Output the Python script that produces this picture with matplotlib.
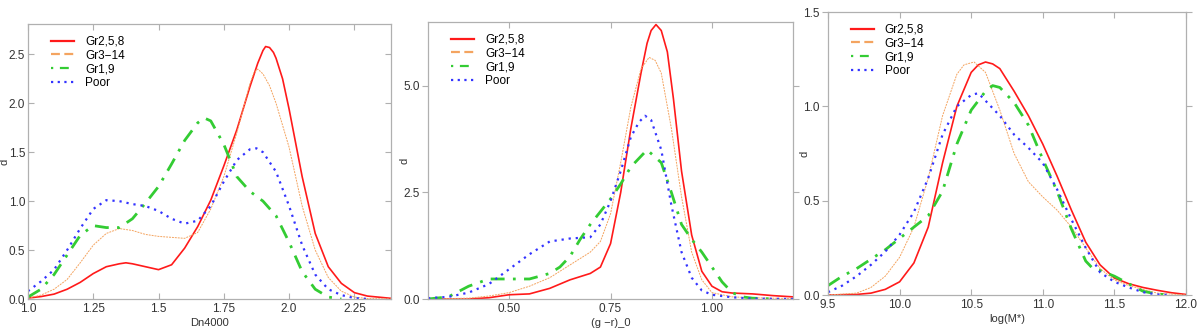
import numpy as np
import matplotlib.pyplot as plt
from matplotlib.lines import Line2D

# ---- panel 1 : Dn4000 ----
dn_red_x = [1.0, 1.05, 1.1, 1.15, 1.2, 1.25, 1.3, 1.35, 1.375, 1.4, 1.45, 1.5, 1.55, 1.6, 1.65, 1.7,
            1.75, 1.8, 1.85, 1.88, 1.9, 1.91, 1.925, 1.94, 1.95, 1.975, 2.0, 2.05, 2.1, 2.15, 2.2,
            2.25, 2.3, 2.39]
dn_red_y = [0.01, 0.025, 0.05, 0.1, 0.17, 0.26, 0.33, 0.36, 0.37, 0.36, 0.33, 0.30, 0.35, 0.52, 0.74, 1.01,
            1.36, 1.73, 2.17, 2.41, 2.54, 2.58, 2.57, 2.52, 2.46, 2.25, 1.94, 1.25, 0.67, 0.33, 0.16,
            0.065, 0.03, 0.007]

dn_org_x = [1.0, 1.05, 1.1, 1.15, 1.2, 1.25, 1.3, 1.35, 1.4, 1.45, 1.5, 1.55, 1.6, 1.65, 1.7, 1.75,
            1.8, 1.85, 1.865, 1.88, 1.9, 1.925, 1.95, 2.0, 2.05, 2.1, 2.15, 2.2, 2.25, 2.3, 2.39]
dn_org_y = [0.01, 0.04, 0.1, 0.2, 0.37, 0.55, 0.67, 0.72, 0.70, 0.66, 0.64, 0.63, 0.62, 0.68, 0.92, 1.25,
            1.7, 2.2, 2.31, 2.35, 2.3, 2.18, 2.0, 1.55, 0.95, 0.5, 0.22, 0.08, 0.02, 0.005, 0.0]

dn_grn_x = [1.0, 1.05, 1.1, 1.15, 1.2, 1.25, 1.3, 1.35, 1.4, 1.45, 1.5, 1.55, 1.6, 1.65, 1.675, 1.7,
            1.75, 1.8, 1.85, 1.9, 1.95, 2.0, 2.05, 2.1, 2.15, 2.2]
dn_grn_y = [0.02, 0.1, 0.25, 0.45, 0.65, 0.75, 0.73, 0.73, 0.82, 0.98, 1.15, 1.38, 1.62, 1.8, 1.85, 1.82,
            1.58, 1.25, 1.1, 1.0, 0.85, 0.58, 0.28, 0.1, 0.02, 0.0]

dn_blu_x = [1.0, 1.05, 1.1, 1.15, 1.2, 1.25, 1.3, 1.35, 1.4, 1.45, 1.5, 1.55, 1.6, 1.65, 1.7, 1.75,
            1.8, 1.85, 1.875, 1.9, 1.95, 2.0, 2.05, 2.1, 2.15, 2.2, 2.25, 2.3]
dn_blu_y = [0.08, 0.18, 0.3, 0.5, 0.72, 0.92, 1.01, 1.0, 0.97, 0.95, 0.9, 0.82, 0.77, 0.8, 0.95, 1.2,
            1.42, 1.53, 1.54, 1.5, 1.3, 0.95, 0.55, 0.25, 0.1, 0.04, 0.01, 0.0]

# ---- panel 2 : (g-r)_0 ----
gr_red_x = [0.3, 0.4, 0.45, 0.5, 0.55, 0.6, 0.65, 0.7, 0.725, 0.75, 0.775, 0.8, 0.825, 0.84, 0.85,
            0.862, 0.875, 0.89, 0.905, 0.925, 0.95, 0.975, 1.0, 1.025, 1.05, 1.1, 1.15, 1.2]
gr_red_y = [0.0, 0.0, 0.03, 0.1, 0.12, 0.25, 0.45, 0.6, 0.75, 1.3, 2.5, 4.0, 5.3, 6.0, 6.3,
            6.44, 6.3, 5.8, 4.7, 3.0, 1.5, 0.65, 0.3, 0.17, 0.14, 0.12, 0.08, 0.05]

gr_org_x = [0.3, 0.4, 0.45, 0.5, 0.55, 0.6, 0.65, 0.7, 0.725, 0.75, 0.775, 0.8, 0.825, 0.845,
            0.86, 0.875, 0.9, 0.925, 0.95, 0.975, 1.0, 1.05, 1.1, 1.2]
gr_org_y = [0.0, 0.02, 0.07, 0.15, 0.3, 0.5, 0.8, 1.1, 1.35, 2.0, 3.2, 4.5, 5.4, 5.67,
            5.6, 5.3, 4.0, 2.4, 1.1, 0.45, 0.15, 0.05, 0.03, 0.01]

gr_grn_x = [0.3, 0.35, 0.4, 0.45, 0.5, 0.55, 0.6, 0.625, 0.65, 0.675, 0.7, 0.725, 0.75, 0.775, 0.8,
            0.84, 0.875, 0.9, 0.925, 0.95, 0.975, 1.0, 1.025, 1.05, 1.075, 1.1, 1.15]
gr_grn_y = [0.0, 0.05, 0.3, 0.47, 0.47, 0.47, 0.6, 0.75, 1.0, 1.4, 1.75, 2.05, 2.35, 2.7, 3.1,
            3.5, 3.2, 2.5, 1.75, 1.4, 1.1, 0.75, 0.4, 0.15, 0.05, 0.02, 0.0]

gr_blu_x = [0.3, 0.35, 0.4, 0.45, 0.5, 0.55, 0.6, 0.65, 0.7, 0.725, 0.75, 0.775, 0.8, 0.82, 0.835,
            0.85, 0.875, 0.9, 0.925, 0.95, 0.975, 1.0, 1.05, 1.1, 1.2]
gr_blu_y = [0.02, 0.05, 0.15, 0.35, 0.7, 1.05, 1.35, 1.42, 1.45, 1.75, 2.3, 3.0, 3.8, 4.15, 4.3,
            4.2, 3.5, 2.2, 1.1, 0.5, 0.2, 0.1, 0.04, 0.01, 0.0]

# ---- panel 3 : log(M*) ----
m_red_x = [9.5, 9.7, 9.8, 9.9, 10.0, 10.1, 10.2, 10.3, 10.4, 10.5, 10.55, 10.6, 10.65, 10.7, 10.8,
           10.9, 11.0, 11.1, 11.2, 11.3, 11.4, 11.5, 11.6, 11.7, 11.8, 11.9, 12.0]
m_red_y = [0.0, 0.003, 0.01, 0.03, 0.07, 0.17, 0.36, 0.7, 1.0, 1.18, 1.22, 1.235, 1.225, 1.2, 1.08,
           0.95, 0.8, 0.63, 0.45, 0.28, 0.16, 0.09, 0.06, 0.04, 0.025, 0.012, 0.003]

m_org_x = [9.5, 9.7, 9.8, 9.9, 10.0, 10.1, 10.2, 10.3, 10.4, 10.45, 10.52, 10.6, 10.7, 10.8, 10.9,
           11.0, 11.1, 11.2, 11.3, 11.4, 11.5, 11.6, 11.7, 11.8, 12.0]
m_org_y = [0.0, 0.01, 0.04, 0.1, 0.2, 0.36, 0.62, 0.95, 1.17, 1.22, 1.235, 1.18, 0.98, 0.75, 0.6,
           0.52, 0.45, 0.36, 0.25, 0.14, 0.08, 0.05, 0.03, 0.01, 0.0]

m_grn_x = [9.5, 9.6, 9.7, 9.8, 9.9, 10.0, 10.1, 10.2, 10.3, 10.4, 10.5, 10.6, 10.65, 10.7, 10.8,
           10.9, 11.0, 11.1, 11.2, 11.3, 11.35, 11.4, 11.5, 11.6, 11.7, 11.8, 11.9]
m_grn_y = [0.05, 0.1, 0.14, 0.19, 0.24, 0.3, 0.36, 0.42, 0.55, 0.8, 0.98, 1.08, 1.11, 1.1, 1.02,
           0.9, 0.72, 0.55, 0.35, 0.18, 0.14, 0.13, 0.1, 0.06, 0.02, 0.005, 0.0]

m_blu_x = [9.5, 9.6, 9.7, 9.8, 9.9, 10.0, 10.1, 10.2, 10.3, 10.4, 10.5, 10.55, 10.6, 10.7, 10.8,
           10.9, 11.0, 11.1, 11.2, 11.3, 11.4, 11.5, 11.6, 11.7, 11.8, 11.9]
m_blu_y = [0.015, 0.05, 0.1, 0.16, 0.23, 0.32, 0.44, 0.62, 0.85, 1.0, 1.06, 1.07, 1.03, 0.95, 0.85,
           0.78, 0.7, 0.56, 0.4, 0.25, 0.12, 0.07, 0.04, 0.015, 0.003, 0.0]

labels = ['Gr2,5,8', 'Gr3\u221214', 'Gr1,9', 'Poor']
colors = ['#ff1a1a', '#f4a460', '#33cc33', '#3333ff']

plt.rcParams['font.family'] = ['Liberation Sans', 'DejaVu Sans']
plt.rcParams['font.size'] = 8

fig = plt.figure(figsize=(12, 3.3), dpi=100)

panels = [
    dict(pos=[0.0233, 0.0939, 0.3025, 0.8333], xlim=(1.0, 2.39), ylim=(0, 2.81),
         xticks=[1.0, 1.25, 1.5, 1.75, 2.0, 2.25], xtl=['1.0', '1.25', '1.5', '1.75', '2.0', '2.25'],
         yticks=[0, 0.5, 1.0, 1.5, 2.0, 2.5], ytl=['0.0', '0.5', '1.0', '1.5', '2.0', '2.5'],
         xlabel='Dn4000', ydir='in', ylab_x=10,
         data=[(dn_red_x, dn_red_y), (dn_org_x, dn_org_y), (dn_grn_x, dn_grn_y), (dn_blu_x, dn_blu_y)]),
    dict(pos=[0.3567, 0.0939, 0.3042, 0.8394], xlim=(0.3, 1.2), ylim=(0, 6.5),
         xticks=[0.5, 0.75, 1.0], xtl=['0.50', '0.75', '1.00'],
         yticks=[0, 2.5, 5.0], ytl=['0.0', '2.5', '5.0'],
         xlabel='(g \u2212r)_0', ydir='out', ylab_x=410,
         data=[(gr_red_x, gr_red_y), (gr_org_x, gr_org_y), (gr_grn_x, gr_grn_y), (gr_blu_x, gr_blu_y)]),
    dict(pos=[0.69, 0.106, 0.2983, 0.8576], xlim=(9.5, 12.0), ylim=(0, 1.5),
         xticks=[9.5, 10.0, 10.5, 11.0, 11.5, 12.0], xtl=['9.5', '10.0', '10.5', '11.0', '11.5', '12.0'],
         yticks=[0, 0.5, 1.0, 1.5], ytl=['0.0', '0.5', '1.0', '1.5'],
         xlabel='log(M*)', ydir='out', ylab_x=810,
         data=[(m_red_x, m_red_y), (m_org_x, m_org_y), (m_grn_x, m_grn_y), (m_blu_x, m_blu_y)]),
]

for p in panels:
    ax = fig.add_axes(p['pos'])
    (rx, ry), (ox, oy), (gx, gy), (bx, by) = p['data']
    ax.plot(rx, ry, color=colors[0], lw=1.2, ls='-')
    ax.plot(ox, oy, color=colors[1], lw=0.7, ls=(0, (2, 1)))
    ax.plot(gx, gy, color=colors[2], lw=2.0, ls=(0, (5, 3, 1, 3)))
    ax.plot(bx, by, color=colors[3], lw=1.6, ls=(0, (1, 2.2)))
    ax.set_xlim(*p['xlim'])
    ax.set_ylim(*p['ylim'])
    ax.set_xticks(p['xticks'])
    ax.set_xticklabels(p['xtl'])
    ax.set_yticks(p['yticks'])
    ax.set_yticklabels(p['ytl'])
    ax.set_xlabel(p['xlabel'], fontsize=8, color='#333333', labelpad=2)
    ax.set_ylabel('d', fontsize=8, color='#333333')
    ycen = p['pos'][1] + p['pos'][3] / 2
    ax.yaxis.set_label_coords(p['ylab_x'] / 1200, ycen, transform=fig.transFigure)
    for s in ax.spines.values():
        s.set_color('#b0b0b0')
        s.set_linewidth(0.9)
    ax.tick_params(axis='x', direction='in', top=True, color='#b0b0b0', length=4,
                   labelcolor='#333333', labelsize=8.5, pad=3)
    ax.tick_params(axis='y', direction=p['ydir'], right=True, color='#b0b0b0', length=4,
                   labelcolor='#333333', labelsize=8.5, pad=2)

    handles = [Line2D([], [], color=colors[0], lw=1.6, ls='-'),
               Line2D([], [], color=colors[1], lw=1.6, ls=(0, (4, 2))),
               Line2D([], [], color=colors[2], lw=1.6, ls=(0, (1, 3, 4, 3))),
               Line2D([], [], color=colors[3], lw=1.6, ls=(0, (1, 2)))]
    ax.legend(handles, labels, loc='upper left', frameon=False, fontsize=8.5,
              handlelength=2.0, handletextpad=0.9, labelspacing=0.15,
              borderaxespad=0.6, bbox_to_anchor=(0.03, 1.0))

fig.savefig('out.png', dpi=100)
